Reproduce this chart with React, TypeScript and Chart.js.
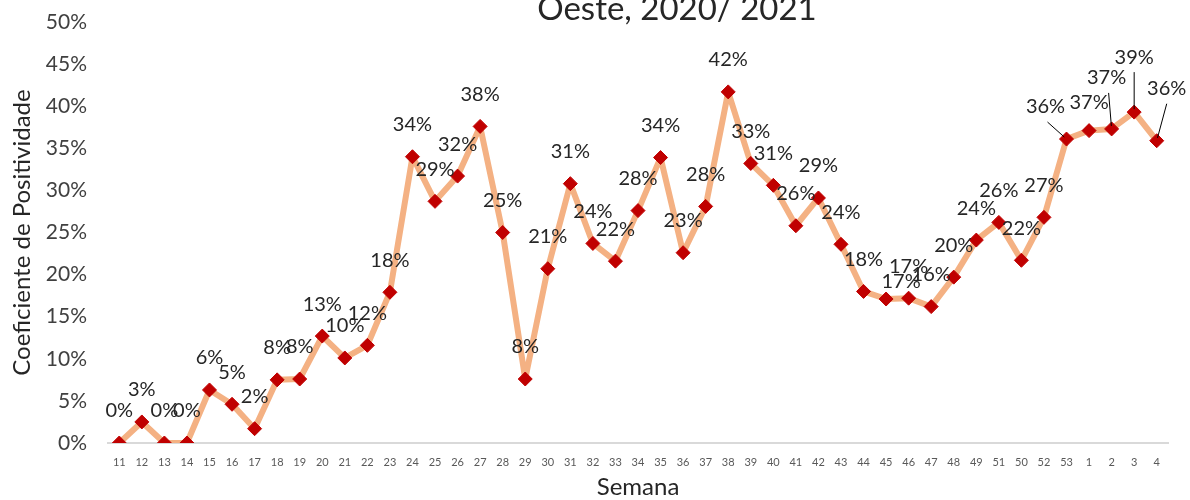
import React, { useEffect, useRef } from 'react';
import { Chart, registerables } from 'chart.js';

Chart.register(...registerables);

const titulo = 'Oeste, 2020/ 2021';
const tituloEixoX = 'Semana';
const tituloEixoY = 'Coeficiente de Positividade';

const semanas = [
  '11', '12', '13', '14', '15', '16', '17', '18', '19', '20',
  '21', '22', '23', '24', '25', '26', '27', '28', '29', '30',
  '31', '32', '33', '34', '35', '36', '37', '38', '39', '40',
  '41', '42', '43', '44', '45', '46', '47', '48', '49', '51',
  '50', '52', '53', '1', '2', '3', '4',
];

const positividade = [
  0, 2.5, 0, 0, 6.3, 4.6, 1.7, 7.5, 7.6, 12.7,
  10.1, 11.6, 17.9, 34.0, 28.7, 31.7, 37.6, 25.0, 7.6, 20.7,
  30.8, 23.7, 21.6, 27.6, 33.9, 22.6, 28.1, 41.7, 33.2, 30.6,
  25.8, 29.1, 23.6, 18.0, 17.1, 17.2, 16.2, 19.7, 24.1, 26.2,
  21.7, 26.8, 36.1, 37.1, 37.3, 39.3, 35.9,
];

const yTicks = [0, 5, 10, 15, 20, 25, 30, 35, 40, 45, 50];

// label placement tweaks (index -> offset from point), leader = draw leader line
const labelOffsets: Record<number, { dx: number; dy: number; leader?: boolean }> = {
  34: { dx: 15, dy: -17 },
  42: { dx: -21, dy: -32, leader: true },
  43: { dx: 0, dy: -28 },
  44: { dx: -5, dy: -51, leader: true },
  45: { dx: 0, dy: -55, leader: true },
  46: { dx: 10, dy: -52, leader: true },
};

const FONT = 'Lato, "Open Sans", "Noto Sans", sans-serif';

const dataLabelsPlugin = {
  id: 'dataLabelsCustom',
  afterDatasetsDraw(chart: any) {
    const ctx = chart.ctx;
    const meta = chart.getDatasetMeta(0);
    ctx.save();
    ctx.font = `20px ${FONT}`;
    ctx.fillStyle = '#262626';
    ctx.textAlign = 'center';
    ctx.textBaseline = 'middle';
    meta.data.forEach((pt: any, i: number) => {
      const off = labelOffsets[i] || { dx: 0, dy: -32 };
      const lx = pt.x + off.dx;
      const ly = pt.y + off.dy;
      if (off.leader) {
        const sx = lx + (off.dx < 0 ? 2 : 0);
        const sy = ly + 15;
        const ang = Math.atan2(pt.y - sy, pt.x - sx);
        ctx.beginPath();
        ctx.strokeStyle = '#000000';
        ctx.lineWidth = 1;
        ctx.moveTo(sx, sy);
        ctx.lineTo(pt.x - Math.cos(ang) * 3, pt.y - Math.sin(ang) * 3);
        ctx.stroke();
      }
      ctx.fillText(Math.round(positividade[i]) + '%', lx, ly);
    });
    ctx.restore();
  },
};

const titlePlugin = {
  id: 'titleCustom',
  afterDraw(chart: any) {
    const ctx = chart.ctx;
    ctx.save();
    ctx.font = `33px ${FONT}`;
    ctx.fillStyle = '#262626';
    ctx.textAlign = 'center';
    ctx.textBaseline = 'alphabetic';
    ctx.fillText(titulo, 677, 20);
    ctx.restore();
  },
};

export default function App() {
  const canvasRef = useRef<HTMLCanvasElement | null>(null);

  useEffect(() => {
    if (!canvasRef.current) return;
    const chart = new Chart(canvasRef.current, {
      type: 'line',
      data: {
        labels: semanas,
        datasets: [
          {
            data: positividade,
            borderColor: '#F4B183',
            borderWidth: 6,
            borderJoinStyle: 'round',
            borderCapStyle: 'round',
            tension: 0,
            pointStyle: 'rectRot',
            pointRadius: 7,
            pointHoverRadius: 7,
            pointBackgroundColor: '#C00000',
            pointBorderColor: '#C00000',
            pointBorderWidth: 1,
          },
        ],
      },
      options: {
        responsive: false,
        animation: false,
        devicePixelRatio: 1,
        layout: { padding: { top: 22, left: 0, right: 22, bottom: 0 } },
        plugins: {
          legend: { display: false },
          tooltip: { enabled: false },
          title: { display: false },
        },
        scales: {
          x: {
            type: 'category',
            offset: true,
            grid: { display: false, drawTicks: false },
            border: { display: true, color: '#D9D9D9', width: 2 },
            ticks: {
              color: '#595959',
              font: { family: FONT, size: 11 },
              padding: 13,
              autoSkip: false,
              maxRotation: 0,
              minRotation: 0,
            },
            title: {
              display: true,
              text: tituloEixoX,
              color: '#262626',
              font: { family: FONT, size: 24 },
              padding: { top: 0, bottom: -2 },
            },
            afterFit(scale: any) {
              scale.height = 57;
              scale.paddingLeft = 0;
              scale.paddingRight = 0;
            },
          },
          y: {
            min: 0,
            max: 50,
            afterBuildTicks(scale: any) {
              scale.ticks = yTicks.map((v) => ({ value: v }));
            },
            grid: { display: false, drawTicks: false },
            border: { display: false },
            ticks: {
              color: '#404040',
              font: { family: FONT, size: 21 },
              padding: 21,
              callback: (v: any) => v + '%',
            },
            title: {
              display: true,
              text: tituloEixoY,
              color: '#262626',
              font: { family: FONT, size: 24 },
              padding: { top: 8, bottom: 0 },
            },
            afterFit(scale: any) {
              scale.width = 108;
              scale.paddingTop = 8;
              scale.paddingBottom = 0;
            },
          },
        },
      },
      plugins: [dataLabelsPlugin, titlePlugin],
    });
    return () => chart.destroy();
  }, []);

  return (
    <div style={{ position: 'absolute', left: 0, top: 0, width: 1190, height: 500 }}>
      <canvas ref={canvasRef} width={1190} height={500} style={{ display: 'block', width: 1190, height: 500 }} />
    </div>
  );
}
